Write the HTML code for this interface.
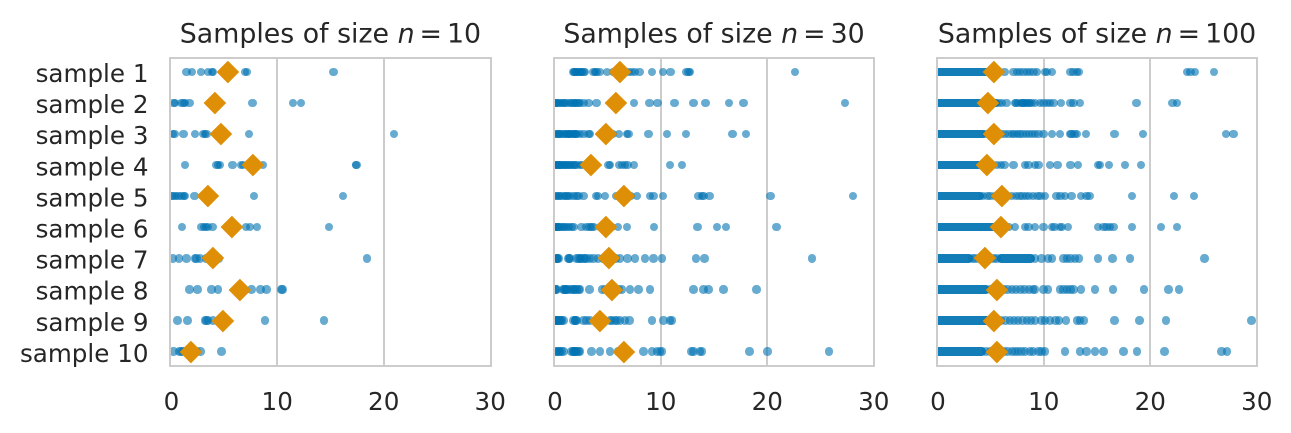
<!DOCTYPE html>
<html><head><meta charset="utf-8"><style>
body{margin:0;background:#fff}
#c{position:relative;width:1291px;height:433px;overflow:hidden;background:#fff}
.ax{position:absolute;top:58.3px;width:319.5px;height:307px;overflow:hidden}
.g{position:absolute;top:0;bottom:0;width:2px;margin-left:-1px;background:#cccccc}
.r{position:absolute;left:0;width:100%;height:0}
.r i{position:absolute;top:-4.2px;width:8.4px;height:8.4px;margin-left:-4.2px;border-radius:50%;background:#0173b2;opacity:.6;left:calc(var(--v)*10.65px)}
.r s{position:absolute;top:-4.2px;height:8.4px;border-radius:4.2px;background:#0173b2;opacity:.93;left:calc(var(--a)*10.65px - 4.2px);width:calc((var(--b) - var(--a))*10.65px + 8.4px)}
.r b{position:absolute;top:-7.9px;width:15.8px;height:15.8px;margin-left:-7.9px;background:#de8f05;transform:rotate(45deg);left:calc(var(--v)*10.65px)}
.sp{position:absolute;top:56.95px;width:322.2px;height:309.7px;border:2.7px solid #cccccc;box-sizing:border-box}
svg{position:absolute;left:0;top:0}
text{font-family:"DejaVu Sans","Liberation Sans",sans-serif;fill:#262626}
</style></head><body><div id="c">

<!-- Panel 1 -->
<div class="ax" style="left:170.7px">
<div class="g" style="left:106.5px"></div><div class="g" style="left:213px"></div>
<div class="r" style="top:13.4px"><i style="--v:1.5"></i><i style="--v:2.0"></i><i style="--v:2.84"></i><i style="--v:3.53"></i><i style="--v:3.9"></i><i style="--v:4.0"></i><i style="--v:5.5"></i><i style="--v:7.0"></i><i style="--v:7.15"></i><i style="--v:15.3"></i><b style="--v:5.34"></b></div>
<div class="r" style="top:44.5px"><i style="--v:0.25"></i><i style="--v:0.4"></i><i style="--v:1.03"></i><i style="--v:1.19"></i><i style="--v:1.34"></i><i style="--v:1.75"></i><i style="--v:4.5"></i><i style="--v:7.69"></i><i style="--v:11.5"></i><i style="--v:12.22"></i><b style="--v:4.19"></b></div>
<div class="r" style="top:75.6px"><i style="--v:0.19"></i><i style="--v:0.34"></i><i style="--v:1.19"></i><i style="--v:2.28"></i><i style="--v:3.06"></i><i style="--v:3.22"></i><i style="--v:3.38"></i><i style="--v:5.2"></i><i style="--v:7.38"></i><i style="--v:20.94"></i><b style="--v:4.72"></b></div>
<div class="r" style="top:106.7px"><i style="--v:1.34"></i><i style="--v:4.31"></i><i style="--v:4.47"></i><i style="--v:4.63"></i><i style="--v:5.81"></i><i style="--v:6.6"></i><i style="--v:6.81"></i><i style="--v:8.69"></i><i style="--v:17.38"></i><i style="--v:17.44"></i><b style="--v:7.75"></b></div>
<div class="r" style="top:137.8px"><i style="--v:0.09"></i><i style="--v:0.25"></i><i style="--v:0.5"></i><i style="--v:0.72"></i><i style="--v:1.03"></i><i style="--v:1.25"></i><i style="--v:1.34"></i><i style="--v:2.22"></i><i style="--v:7.81"></i><i style="--v:16.19"></i><b style="--v:3.53"></b></div>
<div class="r" style="top:168.9px"><i style="--v:1.09"></i><i style="--v:2.91"></i><i style="--v:3.13"></i><i style="--v:3.31"></i><i style="--v:3.53"></i><i style="--v:3.91"></i><i style="--v:7.06"></i><i style="--v:7.44"></i><i style="--v:8.13"></i><i style="--v:14.84"></i><b style="--v:5.78"></b></div>
<div class="r" style="top:200px"><i style="--v:0.19"></i><i style="--v:0.78"></i><i style="--v:1.5"></i><i style="--v:2.28"></i><i style="--v:2.44"></i><i style="--v:2.75"></i><i style="--v:3.3"></i><i style="--v:3.6"></i><i style="--v:4.5"></i><i style="--v:18.44"></i><b style="--v:4.0"></b></div>
<div class="r" style="top:231.1px"><i style="--v:1.75"></i><i style="--v:2.5"></i><i style="--v:3.84"></i><i style="--v:4.47"></i><i style="--v:6.5"></i><i style="--v:7.6"></i><i style="--v:8.44"></i><i style="--v:9.0"></i><i style="--v:10.4"></i><i style="--v:10.5"></i><b style="--v:6.5"></b></div>
<div class="r" style="top:262.2px"><i style="--v:0.63"></i><i style="--v:1.59"></i><i style="--v:3.22"></i><i style="--v:3.38"></i><i style="--v:3.53"></i><i style="--v:4.0"></i><i style="--v:4.6"></i><i style="--v:5.2"></i><i style="--v:8.84"></i><i style="--v:14.38"></i><b style="--v:4.94"></b></div>
<div class="r" style="top:293.3px"><i style="--v:0.25"></i><i style="--v:0.81"></i><i style="--v:1.03"></i><i style="--v:1.2"></i><i style="--v:1.5"></i><i style="--v:1.8"></i><i style="--v:2.2"></i><i style="--v:2.44"></i><i style="--v:2.8"></i><i style="--v:4.78"></i><b style="--v:1.88"></b></div>
</div>
<div class="sp" style="left:169.35px"></div>

<!-- Panel 2 -->
<div class="ax" style="left:554.3px">
<div class="g" style="left:106.5px"></div><div class="g" style="left:213px"></div>
<div class="r" style="top:13.4px"><i style="--v:1.79"></i><i style="--v:1.9"></i><i style="--v:2.0"></i><i style="--v:2.1"></i><i style="--v:2.26"></i><i style="--v:2.4"></i><i style="--v:2.48"></i><i style="--v:2.6"></i><i style="--v:2.73"></i><i style="--v:2.88"></i><i style="--v:3.67"></i><i style="--v:3.8"></i><i style="--v:3.98"></i><i style="--v:4.23"></i><i style="--v:4.92"></i><i style="--v:5.5"></i><i style="--v:6.0"></i><i style="--v:6.4"></i><i style="--v:6.74"></i><i style="--v:7.0"></i><i style="--v:7.3"></i><i style="--v:7.6"></i><i style="--v:8.0"></i><i style="--v:9.15"></i><i style="--v:10.2"></i><i style="--v:10.9"></i><i style="--v:12.4"></i><i style="--v:12.6"></i><i style="--v:12.76"></i><i style="--v:22.6"></i><b style="--v:6.17"></b></div>
<div class="r" style="top:44.5px"><i style="--v:0.06"></i><i style="--v:0.15"></i><i style="--v:0.22"></i><i style="--v:0.38"></i><i style="--v:0.53"></i><i style="--v:0.7"></i><i style="--v:0.85"></i><i style="--v:1.0"></i><i style="--v:1.16"></i><i style="--v:1.47"></i><i style="--v:1.6"></i><i style="--v:1.79"></i><i style="--v:1.94"></i><i style="--v:2.1"></i><i style="--v:2.26"></i><i style="--v:2.42"></i><i style="--v:2.73"></i><i style="--v:3.2"></i><i style="--v:3.98"></i><i style="--v:5.3"></i><i style="--v:5.9"></i><i style="--v:7.49"></i><i style="--v:8.93"></i><i style="--v:9.69"></i><i style="--v:11.29"></i><i style="--v:13.07"></i><i style="--v:14.2"></i><i style="--v:16.4"></i><i style="--v:17.77"></i><i style="--v:27.3"></i><b style="--v:5.8"></b></div>
<div class="r" style="top:75.6px"><i style="--v:0.06"></i><i style="--v:0.2"></i><i style="--v:0.38"></i><i style="--v:0.5"></i><i style="--v:0.6"></i><i style="--v:0.85"></i><i style="--v:1.0"></i><i style="--v:1.16"></i><i style="--v:1.3"></i><i style="--v:1.4"></i><i style="--v:1.5"></i><i style="--v:1.63"></i><i style="--v:1.79"></i><i style="--v:1.94"></i><i style="--v:2.0"></i><i style="--v:2.1"></i><i style="--v:2.42"></i><i style="--v:2.73"></i><i style="--v:3.2"></i><i style="--v:3.35"></i><i style="--v:4.5"></i><i style="--v:5.5"></i><i style="--v:6.1"></i><i style="--v:6.8"></i><i style="--v:6.96"></i><i style="--v:8.84"></i><i style="--v:10.56"></i><i style="--v:12.35"></i><i style="--v:16.74"></i><i style="--v:18.0"></i><b style="--v:4.86"></b></div>
<div class="r" style="top:106.7px"><i style="--v:0.05"></i><i style="--v:0.15"></i><i style="--v:0.3"></i><i style="--v:0.4"></i><i style="--v:0.5"></i><i style="--v:0.6"></i><i style="--v:0.7"></i><i style="--v:0.85"></i><i style="--v:1.0"></i><i style="--v:1.1"></i><i style="--v:1.25"></i><i style="--v:1.4"></i><i style="--v:1.5"></i><i style="--v:1.65"></i><i style="--v:1.8"></i><i style="--v:1.95"></i><i style="--v:2.1"></i><i style="--v:2.4"></i><i style="--v:2.6"></i><i style="--v:3.0"></i><i style="--v:3.8"></i><i style="--v:5.08"></i><i style="--v:5.24"></i><i style="--v:6.1"></i><i style="--v:6.33"></i><i style="--v:6.65"></i><i style="--v:6.87"></i><i style="--v:7.5"></i><i style="--v:10.88"></i><i style="--v:11.97"></i><b style="--v:3.4"></b></div>
<div class="r" style="top:137.8px"><i style="--v:0.06"></i><i style="--v:0.28"></i><i style="--v:0.4"></i><i style="--v:0.53"></i><i style="--v:0.78"></i><i style="--v:1.0"></i><i style="--v:1.16"></i><i style="--v:1.3"></i><i style="--v:1.47"></i><i style="--v:1.79"></i><i style="--v:2.1"></i><i style="--v:2.26"></i><i style="--v:2.73"></i><i style="--v:3.9"></i><i style="--v:4.1"></i><i style="--v:4.76"></i><i style="--v:5.8"></i><i style="--v:6.2"></i><i style="--v:6.9"></i><i style="--v:7.2"></i><i style="--v:7.74"></i><i style="--v:9.0"></i><i style="--v:9.3"></i><i style="--v:10.19"></i><i style="--v:13.54"></i><i style="--v:13.86"></i><i style="--v:14.0"></i><i style="--v:14.58"></i><i style="--v:20.3"></i><i style="--v:28.06"></i><b style="--v:6.58"></b></div>
<div class="r" style="top:168.9px"><i style="--v:0.05"></i><i style="--v:0.15"></i><i style="--v:0.25"></i><i style="--v:0.3"></i><i style="--v:0.35"></i><i style="--v:0.45"></i><i style="--v:0.55"></i><i style="--v:0.7"></i><i style="--v:0.85"></i><i style="--v:1.0"></i><i style="--v:1.2"></i><i style="--v:1.4"></i><i style="--v:1.6"></i><i style="--v:1.8"></i><i style="--v:2.57"></i><i style="--v:3.04"></i><i style="--v:3.29"></i><i style="--v:3.5"></i><i style="--v:3.67"></i><i style="--v:4.3"></i><i style="--v:4.83"></i><i style="--v:5.0"></i><i style="--v:5.4"></i><i style="--v:6.0"></i><i style="--v:6.8"></i><i style="--v:9.37"></i><i style="--v:13.45"></i><i style="--v:15.27"></i><i style="--v:16.14"></i><i style="--v:20.85"></i><b style="--v:4.83"></b></div>
<div class="r" style="top:200px"><i style="--v:0.22"></i><i style="--v:0.25"></i><i style="--v:0.3"></i><i style="--v:0.38"></i><i style="--v:1.32"></i><i style="--v:1.4"></i><i style="--v:1.47"></i><i style="--v:2.1"></i><i style="--v:2.26"></i><i style="--v:2.42"></i><i style="--v:2.5"></i><i style="--v:2.73"></i><i style="--v:2.9"></i><i style="--v:3.04"></i><i style="--v:3.35"></i><i style="--v:3.67"></i><i style="--v:4.13"></i><i style="--v:4.6"></i><i style="--v:5.2"></i><i style="--v:5.5"></i><i style="--v:5.8"></i><i style="--v:6.18"></i><i style="--v:6.87"></i><i style="--v:7.59"></i><i style="--v:8.53"></i><i style="--v:9.3"></i><i style="--v:10.1"></i><i style="--v:13.3"></i><i style="--v:14.1"></i><i style="--v:24.2"></i><b style="--v:5.17"></b></div>
<div class="r" style="top:231.1px"><i style="--v:0.06"></i><i style="--v:0.1"></i><i style="--v:0.22"></i><i style="--v:0.85"></i><i style="--v:0.9"></i><i style="--v:1.0"></i><i style="--v:1.1"></i><i style="--v:1.16"></i><i style="--v:1.32"></i><i style="--v:1.63"></i><i style="--v:1.79"></i><i style="--v:1.9"></i><i style="--v:2.1"></i><i style="--v:2.26"></i><i style="--v:2.42"></i><i style="--v:3.29"></i><i style="--v:4.45"></i><i style="--v:4.76"></i><i style="--v:5.2"></i><i style="--v:5.8"></i><i style="--v:6.1"></i><i style="--v:6.33"></i><i style="--v:7.1"></i><i style="--v:7.9"></i><i style="--v:9.0"></i><i style="--v:13.07"></i><i style="--v:14.0"></i><i style="--v:14.48"></i><i style="--v:15.9"></i><i style="--v:19.0"></i><b style="--v:5.4"></b></div>
<div class="r" style="top:262.2px"><i style="--v:0.05"></i><i style="--v:0.15"></i><i style="--v:0.25"></i><i style="--v:0.3"></i><i style="--v:0.35"></i><i style="--v:0.45"></i><i style="--v:0.55"></i><i style="--v:0.65"></i><i style="--v:0.75"></i><i style="--v:0.85"></i><i style="--v:1.79"></i><i style="--v:1.94"></i><i style="--v:2.0"></i><i style="--v:2.1"></i><i style="--v:2.73"></i><i style="--v:3.04"></i><i style="--v:3.35"></i><i style="--v:4.0"></i><i style="--v:4.6"></i><i style="--v:5.24"></i><i style="--v:5.4"></i><i style="--v:5.7"></i><i style="--v:5.86"></i><i style="--v:6.17"></i><i style="--v:6.65"></i><i style="--v:7.05"></i><i style="--v:9.15"></i><i style="--v:10.25"></i><i style="--v:10.88"></i><i style="--v:11.03"></i><b style="--v:4.3"></b></div>
<div class="r" style="top:293.3px"><i style="--v:0.16"></i><i style="--v:0.25"></i><i style="--v:0.38"></i><i style="--v:0.53"></i><i style="--v:0.69"></i><i style="--v:0.85"></i><i style="--v:1.63"></i><i style="--v:1.79"></i><i style="--v:1.8"></i><i style="--v:1.94"></i><i style="--v:2.0"></i><i style="--v:2.1"></i><i style="--v:2.26"></i><i style="--v:2.42"></i><i style="--v:3.5"></i><i style="--v:4.3"></i><i style="--v:5.24"></i><i style="--v:6.0"></i><i style="--v:8.37"></i><i style="--v:9.15"></i><i style="--v:9.62"></i><i style="--v:9.94"></i><i style="--v:10.1"></i><i style="--v:12.9"></i><i style="--v:13.07"></i><i style="--v:13.7"></i><i style="--v:13.86"></i><i style="--v:18.34"></i><i style="--v:20.0"></i><i style="--v:25.8"></i><b style="--v:6.58"></b></div>
</div>
<div class="sp" style="left:552.95px"></div>

<!-- Panel 3 -->
<div class="ax" style="left:937.3px">
<div class="g" style="left:106.5px"></div><div class="g" style="left:213px"></div>
<div class="r" style="top:13.4px"><s style="--a:0;--b:4.6"></s><i style="--v:4.9"></i><i style="--v:5.3"></i><i style="--v:5.8"></i><i style="--v:6.3"></i><i style="--v:7.15"></i><i style="--v:7.5"></i><i style="--v:7.77"></i><i style="--v:8.09"></i><i style="--v:8.4"></i><i style="--v:8.72"></i><i style="--v:9.03"></i><i style="--v:9.34"></i><i style="--v:10.1"></i><i style="--v:10.3"></i><i style="--v:10.75"></i><i style="--v:12.5"></i><i style="--v:12.8"></i><i style="--v:13.1"></i><i style="--v:13.3"></i><i style="--v:23.45"></i><i style="--v:23.76"></i><i style="--v:24.2"></i><i style="--v:26.0"></i><b style="--v:5.33"></b></div>
<div class="r" style="top:44.5px"><s style="--a:0;--b:5.5"></s><i style="--v:5.8"></i><i style="--v:6.05"></i><i style="--v:6.5"></i><i style="--v:7.3"></i><i style="--v:7.4"></i><i style="--v:7.6"></i><i style="--v:7.9"></i><i style="--v:8.0"></i><i style="--v:8.1"></i><i style="--v:8.25"></i><i style="--v:8.4"></i><i style="--v:8.56"></i><i style="--v:8.7"></i><i style="--v:8.87"></i><i style="--v:9.2"></i><i style="--v:9.65"></i><i style="--v:9.97"></i><i style="--v:10.3"></i><i style="--v:10.6"></i><i style="--v:10.9"></i><i style="--v:11.6"></i><i style="--v:12.5"></i><i style="--v:12.8"></i><i style="--v:13.4"></i><i style="--v:18.7"></i><i style="--v:22.1"></i><i style="--v:22.5"></i><b style="--v:4.73"></b></div>
<div class="r" style="top:75.6px"><s style="--a:0;--b:4.3"></s><i style="--v:4.6"></i><i style="--v:5.0"></i><i style="--v:5.3"></i><i style="--v:5.7"></i><i style="--v:6.0"></i><i style="--v:6.3"></i><i style="--v:6.7"></i><i style="--v:7.0"></i><i style="--v:7.2"></i><i style="--v:7.5"></i><i style="--v:7.7"></i><i style="--v:8.0"></i><i style="--v:8.3"></i><i style="--v:8.6"></i><i style="--v:8.9"></i><i style="--v:9.2"></i><i style="--v:9.5"></i><i style="--v:9.97"></i><i style="--v:10.75"></i><i style="--v:11.5"></i><i style="--v:12.5"></i><i style="--v:12.6"></i><i style="--v:12.9"></i><i style="--v:13.1"></i><i style="--v:13.95"></i><i style="--v:16.65"></i><i style="--v:19.3"></i><i style="--v:27.1"></i><i style="--v:27.8"></i><b style="--v:5.33"></b></div>
<div class="r" style="top:106.7px"><s style="--a:0;--b:4.8"></s><i style="--v:5.2"></i><i style="--v:5.6"></i><i style="--v:6.0"></i><i style="--v:6.3"></i><i style="--v:7.15"></i><i style="--v:8.25"></i><i style="--v:8.56"></i><i style="--v:9.2"></i><i style="--v:9.5"></i><i style="--v:10.6"></i><i style="--v:11.3"></i><i style="--v:12.5"></i><i style="--v:13.2"></i><i style="--v:15.1"></i><i style="--v:15.3"></i><i style="--v:16.1"></i><i style="--v:17.65"></i><i style="--v:19.15"></i><b style="--v:4.7"></b></div>
<div class="r" style="top:137.8px"><s style="--a:0;--b:4.0"></s><i style="--v:4.3"></i><i style="--v:4.7"></i><i style="--v:5.0"></i><i style="--v:5.4"></i><i style="--v:5.8"></i><i style="--v:6.2"></i><i style="--v:6.6"></i><i style="--v:7.0"></i><i style="--v:7.4"></i><i style="--v:7.7"></i><i style="--v:8.0"></i><i style="--v:8.3"></i><i style="--v:8.6"></i><i style="--v:9.0"></i><i style="--v:9.4"></i><i style="--v:9.7"></i><i style="--v:10.1"></i><i style="--v:11.2"></i><i style="--v:11.55"></i><i style="--v:12.0"></i><i style="--v:12.6"></i><i style="--v:13.5"></i><i style="--v:14.0"></i><i style="--v:14.3"></i><i style="--v:18.3"></i><i style="--v:22.2"></i><i style="--v:24.1"></i><b style="--v:6.05"></b></div>
<div class="r" style="top:168.9px"><s style="--a:0;--b:5.2"></s><i style="--v:5.5"></i><i style="--v:5.9"></i><i style="--v:6.3"></i><i style="--v:6.7"></i><i style="--v:7.3"></i><i style="--v:8.25"></i><i style="--v:8.56"></i><i style="--v:9.2"></i><i style="--v:9.97"></i><i style="--v:10.75"></i><i style="--v:11.0"></i><i style="--v:11.5"></i><i style="--v:11.7"></i><i style="--v:12.25"></i><i style="--v:15.1"></i><i style="--v:15.6"></i><i style="--v:15.9"></i><i style="--v:16.2"></i><i style="--v:16.55"></i><i style="--v:18.3"></i><i style="--v:21.0"></i><i style="--v:22.5"></i><b style="--v:5.96"></b></div>
<div class="r" style="top:200px"><s style="--a:0;--b:3.0"></s><s style="--a:6.0;--b:8.8"></s><i style="--v:3.3"></i><i style="--v:3.6"></i><i style="--v:3.9"></i><i style="--v:4.2"></i><i style="--v:4.6"></i><i style="--v:5.0"></i><i style="--v:5.3"></i><i style="--v:5.6"></i><i style="--v:9.2"></i><i style="--v:9.8"></i><i style="--v:10.4"></i><i style="--v:10.75"></i><i style="--v:11.85"></i><i style="--v:12.2"></i><i style="--v:12.5"></i><i style="--v:12.95"></i><i style="--v:13.3"></i><i style="--v:15.1"></i><i style="--v:16.45"></i><i style="--v:18.1"></i><i style="--v:25.1"></i><b style="--v:4.48"></b></div>
<div class="r" style="top:231.1px"><s style="--a:0;--b:4.6"></s><i style="--v:5.0"></i><i style="--v:5.4"></i><i style="--v:5.8"></i><i style="--v:6.2"></i><i style="--v:6.6"></i><i style="--v:7.0"></i><i style="--v:7.4"></i><i style="--v:7.8"></i><i style="--v:8.2"></i><i style="--v:8.6"></i><i style="--v:9.0"></i><i style="--v:9.2"></i><i style="--v:9.97"></i><i style="--v:10.4"></i><i style="--v:11.5"></i><i style="--v:11.85"></i><i style="--v:12.2"></i><i style="--v:12.5"></i><i style="--v:12.8"></i><i style="--v:13.5"></i><i style="--v:14.8"></i><i style="--v:16.5"></i><i style="--v:19.4"></i><i style="--v:21.7"></i><i style="--v:22.7"></i><b style="--v:5.58"></b></div>
<div class="r" style="top:262.2px"><s style="--a:0;--b:5.2"></s><i style="--v:5.6"></i><i style="--v:6.0"></i><i style="--v:6.4"></i><i style="--v:6.8"></i><i style="--v:7.2"></i><i style="--v:7.6"></i><i style="--v:8.0"></i><i style="--v:8.4"></i><i style="--v:8.8"></i><i style="--v:9.2"></i><i style="--v:9.8"></i><i style="--v:10.1"></i><i style="--v:10.6"></i><i style="--v:11.1"></i><i style="--v:11.4"></i><i style="--v:12.1"></i><i style="--v:13.1"></i><i style="--v:13.4"></i><i style="--v:13.8"></i><i style="--v:16.65"></i><i style="--v:19.0"></i><i style="--v:21.5"></i><i style="--v:29.5"></i><b style="--v:5.36"></b></div>
<div class="r" style="top:293.3px"><s style="--a:0;--b:4.2"></s><i style="--v:4.6"></i><i style="--v:5.0"></i><i style="--v:5.4"></i><i style="--v:5.8"></i><i style="--v:6.2"></i><i style="--v:6.6"></i><i style="--v:7.0"></i><i style="--v:7.3"></i><i style="--v:7.6"></i><i style="--v:7.9"></i><i style="--v:8.25"></i><i style="--v:8.7"></i><i style="--v:9.0"></i><i style="--v:9.5"></i><i style="--v:9.8"></i><i style="--v:10.1"></i><i style="--v:12.0"></i><i style="--v:13.4"></i><i style="--v:14.0"></i><i style="--v:14.8"></i><i style="--v:15.6"></i><i style="--v:17.5"></i><i style="--v:18.75"></i><i style="--v:21.35"></i><i style="--v:26.7"></i><i style="--v:27.2"></i><b style="--v:5.58"></b></div>
</div>
<div class="sp" style="left:935.95px"></div>

<svg width="1291" height="433" viewBox="0 0 1291 433">
<g font-size="26.8" text-anchor="middle">
<text x="330.45" y="42.3">Samples of size <tspan font-style="italic">n</tspan><tspan dx="5">=</tspan><tspan dx="5">10</tspan></text>
<text x="714.05" y="42.3">Samples of size <tspan font-style="italic">n</tspan><tspan dx="5">=</tspan><tspan dx="5">30</tspan></text>
<text x="1097.05" y="42.3">Samples of size <tspan font-style="italic">n</tspan><tspan dx="5">=</tspan><tspan dx="5">100</tspan></text>
</g>
<g font-size="24.6" text-anchor="end">
<text x="148.5" y="82">sample 1</text>
<text x="148.5" y="113.1">sample 2</text>
<text x="148.5" y="144.2">sample 3</text>
<text x="148.5" y="175.3">sample 4</text>
<text x="148.5" y="206.4">sample 5</text>
<text x="148.5" y="237.5">sample 6</text>
<text x="148.5" y="268.6">sample 7</text>
<text x="148.5" y="299.7">sample 8</text>
<text x="148.5" y="330.8">sample 9</text>
<text x="148.5" y="361.9">sample 10</text>
</g>
<g font-size="24.6" text-anchor="middle">
<text x="171.5" y="410">0</text><text x="277.2" y="410">10</text><text x="383.7" y="410">20</text><text x="490.2" y="410">30</text>
<text x="555" y="410">0</text><text x="660.8" y="410">10</text><text x="767.3" y="410">20</text><text x="873.8" y="410">30</text>
<text x="938" y="410">0</text><text x="1043.8" y="410">10</text><text x="1150.3" y="410">20</text><text x="1256.8" y="410">30</text>
</g>
</svg>
</div></body></html>
